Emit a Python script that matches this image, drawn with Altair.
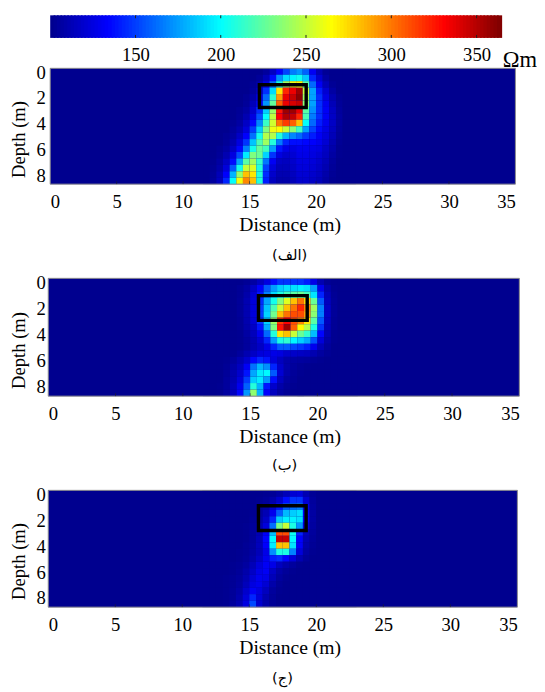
import altair as alt
import pandas as pd

FONT = "Liberation Serif"
X_CELLS = [11.5 + 0.5 * i for i in range(23)]
Z_CELLS = [0.5 * i for i in range(18)]
X_TICKS = [0, 5, 10, 15, 20, 25, 30, 35]
Z_TICKS = [0, 2, 4, 6, 8]
CB_TICKS = [150, 200, 250, 300, 350]
CB_SWEEP = list(range(100, 363, 2))
JET_STOPS = [100, 133, 166, 199, 232, 264, 297, 330, 363]
JET_COLORS = ["#00008f", "#0000ff", "#007fff", "#00ffff", "#7fff7f", "#ffff00", "#ff7f00", "#ff0000", "#7f0000"]

PANEL_A = [
[100,100,100,100,100,100,100,100,100,104,115,132,150,165,172,158,130,112,102,100,100,100,100],
[100,100,100,100,100,100,100,100,103,112,135,170,190,197,203,185,142,120,106,100,100,100,100],
[100,100,100,100,100,100,100,102,108,125,160,205,240,260,265,220,160,130,112,102,100,100,100],
[100,100,100,100,100,100,100,104,116,145,190,270,320,335,355,250,175,140,120,106,100,100,100],
[100,100,100,100,100,100,102,108,126,160,210,290,335,345,360,240,175,145,125,110,102,100,100],
[100,100,100,100,100,100,103,112,134,172,225,305,335,340,345,235,175,145,128,112,103,100,100],
[100,100,100,100,100,102,106,118,144,186,238,325,355,355,335,222,170,145,130,115,104,100,100],
[100,100,100,100,100,103,110,124,154,200,248,330,350,345,320,218,165,145,130,116,105,100,100],
[100,100,100,100,102,106,116,134,168,214,252,300,315,305,280,200,160,140,128,116,105,100,100],
[100,100,100,100,104,110,122,148,186,232,260,265,250,235,215,175,150,135,125,114,104,100,100],
[100,100,100,102,106,116,132,162,204,245,245,208,180,168,160,148,140,130,122,112,103,100,100],
[100,100,100,103,110,124,146,184,218,240,208,165,142,136,136,134,132,128,120,110,102,100,100],
[100,100,102,106,116,134,166,204,226,216,174,138,126,124,128,128,126,124,116,108,101,100,100],
[100,100,103,110,124,152,194,232,226,188,146,124,118,120,126,126,124,120,114,106,101,100,100],
[100,101,106,116,136,176,222,240,212,164,130,116,114,118,124,124,122,118,112,104,100,100,100],
[100,102,108,122,156,204,250,255,208,150,122,112,112,116,122,122,120,116,110,103,100,100,100],
[100,103,112,132,180,238,280,270,208,144,118,110,110,114,120,120,118,114,108,102,100,100,100],
[100,104,114,142,200,262,295,280,208,140,114,108,108,112,118,118,116,112,106,101,100,100,100],
]
PANEL_B = [
[100,100,100,100,100,100,102,106,114,124,136,146,146,146,146,140,126,110,102,100,100,100,100],
[100,100,100,100,100,102,106,116,132,156,174,187,192,192,196,192,174,128,108,101,100,100,100],
[100,100,100,100,100,102,108,120,138,166,190,206,216,222,226,216,192,142,112,102,100,100,100],
[100,100,100,100,100,103,110,122,144,176,204,232,256,280,300,275,226,156,114,103,100,100,100],
[100,100,100,100,100,103,110,122,148,184,218,250,280,300,320,295,240,166,116,103,100,100,100],
[100,100,100,100,100,103,110,122,148,188,228,280,300,310,310,290,235,166,116,103,100,100,100],
[100,100,100,100,100,102,109,120,146,188,238,315,330,310,295,270,222,156,114,102,100,100,100],
[100,100,100,100,100,102,108,116,138,178,232,325,355,305,265,245,206,146,112,102,100,100,100],
[100,100,100,100,100,101,106,113,128,160,208,270,280,250,226,212,182,134,110,101,100,100,100],
[100,100,100,100,100,101,104,110,120,142,174,206,211,197,187,177,154,122,107,101,100,100,100],
[100,100,100,100,100,101,104,110,116,126,142,156,156,150,146,140,128,112,104,100,100,100,100],
[100,100,100,100,101,104,110,116,122,124,126,124,118,117,116,114,110,105,102,100,100,100,100],
[100,100,100,101,104,110,118,134,143,138,122,114,108,106,105,104,102,101,100,100,100,100,100],
[100,100,100,102,107,114,130,162,180,170,142,118,108,104,102,101,100,100,100,100,100,100,100],
[100,100,100,103,109,118,138,176,194,198,156,120,108,103,101,100,100,100,100,100,100,100,100],
[100,100,100,104,110,122,148,186,194,174,136,114,105,102,100,100,100,100,100,100,100,100,100],
[100,100,101,104,112,128,158,208,180,138,118,108,103,101,100,100,100,100,100,100,100,100,100],
[100,100,101,105,114,134,172,236,180,132,114,106,102,100,100,100,100,100,100,100,100,100,100],
]
PANEL_C = [
[100,100,100,100,100,100,100,100,100,101,102,106,112,120,122,110,102,100,100,100,100,100,100],
[100,100,100,100,100,100,100,100,101,103,108,118,136,146,146,120,104,100,100,100,100,100,100],
[100,100,100,100,100,100,100,100,102,106,118,138,156,161,166,127,105,100,100,100,100,100,100],
[100,100,100,100,100,100,100,101,104,111,128,157,181,186,191,132,106,100,100,100,100,100,100],
[100,100,100,100,100,100,100,102,106,116,143,186,196,196,191,132,106,100,100,100,100,100,100],
[100,100,100,100,100,100,101,103,109,122,162,230,250,206,172,122,105,100,100,100,100,100,100],
[100,100,100,100,100,100,101,104,111,130,182,310,310,202,142,113,104,100,100,100,100,100,100],
[100,100,100,100,100,100,101,104,112,134,198,345,345,198,133,110,103,100,100,100,100,100,100],
[100,100,100,100,100,100,102,105,113,132,194,280,280,192,131,108,102,100,100,100,100,100,100],
[100,100,100,100,100,101,102,106,112,126,170,206,206,167,122,106,101,100,100,100,100,100,100],
[100,100,100,100,100,101,103,108,116,128,140,144,134,122,110,103,100,100,100,100,100,100,100],
[100,100,100,100,101,102,105,112,122,130,126,114,108,104,101,100,100,100,100,100,100,100,100],
[100,100,100,100,101,103,108,116,126,130,116,107,103,101,100,100,100,100,100,100,100,100,100],
[100,100,100,101,102,104,110,120,128,126,112,104,101,100,100,100,100,100,100,100,100,100,100],
[100,100,100,101,102,105,113,124,128,120,108,102,100,100,100,100,100,100,100,100,100,100,100],
[100,100,100,101,103,107,118,130,124,114,104,101,100,100,100,100,100,100,100,100,100,100,100],
[100,100,100,101,103,109,122,142,122,110,103,100,100,100,100,100,100,100,100,100,100,100,100],
[100,100,100,101,104,110,124,152,119,108,102,100,100,100,100,100,100,100,100,100,100,100,100],
]
BOX_A = [15.74, 19.26, 1.27, 3.04]
BOX_B = [15.62, 19.24, 1.32, 3.21]
BOX_C = [15.68, 19.24, 1.18, 3.09]

PANEL_W = 480
color_scale = alt.Scale(domain=JET_STOPS, range=JET_COLORS, interpolate="rgb", clamp=True)


def panel(matrix, box, x_range, height, caption, title_y, cap_offset):
    cells = pd.DataFrame(
        [
            {"x0": x, "x1": x + 0.5, "z0": z, "z1": z + 0.5, "v": v}
            for z, row in zip(Z_CELLS, matrix)
            for x, v in zip(X_CELLS, row)
        ]
    )
    sx = alt.Scale(domain=[0, 35], range=x_range)
    sz = alt.Scale(domain=[0, 9], range=[0, height], nice=False)
    xaxis = alt.Axis(
        values=X_TICKS, title="Distance (m)", labelFlush=True, grid=False, domain=False,
        tickSize=0, labelPadding=9, labelFontSize=19, titleFontSize=20, labelFont=FONT, titleFont=FONT,
        labelColor="#000", titleColor="#000", titleFontWeight="normal",
        titleX=246, titleY=41, titleBaseline="middle",
    )
    yaxis = alt.Axis(
        values=Z_TICKS, title="Depth (m)", grid=False, domain=False, tickSize=0, labelOffset=4,
        labelPadding=3, labelFontSize=19, titleFontSize=19, labelFont=FONT, titleFont=FONT,
        labelColor="#000", titleColor="#000", titleFontWeight="normal",
        titleX=-30, titleY=title_y, titleBaseline="middle", titleAngle=270,
    )
    frame_df = pd.DataFrame({"x0": [0], "x1": [35], "z0": [0], "z1": [9], "v": [100]})
    back = alt.Chart(frame_df).mark_rect().encode(
        x=alt.X("x0:Q", scale=sx, axis=xaxis), x2="x1:Q",
        y=alt.Y("z0:Q", scale=sz, axis=yaxis), y2="z1:Q",
        color=alt.Color("v:Q", scale=color_scale, legend=None),
    )
    heat = alt.Chart(cells).mark_rect().encode(
        x=alt.X("x0:Q", scale=sx, axis=xaxis), x2="x1:Q",
        y=alt.Y("z0:Q", scale=sz, axis=yaxis), y2="z1:Q",
        color=alt.Color("v:Q", scale=color_scale, legend=None),
    )
    border = alt.Chart(frame_df).mark_rect(fill=None, stroke="#8c8c8c", strokeWidth=1).encode(
        x=alt.X("x0:Q", scale=sx, axis=xaxis), x2="x1:Q",
        y=alt.Y("z0:Q", scale=sz, axis=yaxis), y2="z1:Q",
    )
    rect = alt.Chart(pd.DataFrame({"x0": [box[0]], "x1": [box[1]], "z0": [box[2]], "z1": [box[3]]})).mark_rect(
        fill=None, stroke="#000000", strokeWidth=3.5
    ).encode(
        x=alt.X("x0:Q", scale=sx, axis=xaxis), x2="x1:Q",
        y=alt.Y("z0:Q", scale=sz, axis=yaxis), y2="z1:Q",
    )
    ticks = alt.Chart(pd.DataFrame({"x0": X_TICKS[1:-1]})).mark_rule(color="#222", opacity=0.6).encode(
        x=alt.X("x0:Q", scale=sx, axis=xaxis), y=alt.value(height - 3), y2=alt.value(height),
    )
    return alt.layer(back, heat, border, rect, ticks).properties(
        width=PANEL_W, height=height,
        title=alt.TitleParams(
            caption, orient="bottom", font="DejaVu Sans", fontSize=15, fontWeight="normal",
            color="#000", offset=cap_offset, anchor="start", frame="group", dx=228,
        ),
    )


cb_x = alt.Scale(domain=[100, 363], range=[2, 459])
cb_axis = alt.Axis(
    values=CB_TICKS, title="Ωm", grid=False, domain=False, tickSize=0, labelPadding=8,
    labelFontSize=19, labelFont=FONT, labelColor="#000", titleFont=FONT, titleFontSize=23,
    titleFontWeight="normal", titleColor="#000", titleX=480, titleY=22, titleBaseline="middle",
)
cb = pd.DataFrame({"a": CB_SWEEP, "b": [v + 3 for v in CB_SWEEP], "v": CB_SWEEP})
colorbar = alt.Chart(cb).mark_rect().encode(
    x=alt.X("a:Q", scale=cb_x, axis=cb_axis),
    x2="b:Q",
    color=alt.Color("v:Q", scale=color_scale, legend=None),
)
cb_ticks = alt.Chart(pd.DataFrame({"a": CB_TICKS})).mark_rule(color="#222").encode(
    x=alt.X("a:Q", scale=cb_x, axis=cb_axis), y=alt.value(0), y2=alt.value(3),
)
cb_ticks2 = alt.Chart(pd.DataFrame({"a": CB_TICKS})).mark_rule(color="#222").encode(
    x=alt.X("a:Q", scale=cb_x, axis=cb_axis), y=alt.value(20), y2=alt.value(23),
)
bar = alt.layer(colorbar, cb_ticks, cb_ticks2).properties(width=PANEL_W, height=23)

a = panel(PANEL_A, BOX_A, [2, 476], 118, "(الف)", 72, 14)
b = panel(PANEL_B, BOX_B, [0, 480], 120, "(ب)", 73, 12)
c = panel(PANEL_C, BOX_C, [0, 478], 119, "(ج)", 72, 14)

stack = alt.vconcat(a, b, c, spacing=96, bounds="flush")
chart = alt.vconcat(bar, stack, spacing=31, bounds="flush", padding={"left": 2, "top": 0, "right": 0, "bottom": 0}).configure_view(stroke=None)
chart.save("out.html", embed_options={"renderer": "svg", "actions": False})
